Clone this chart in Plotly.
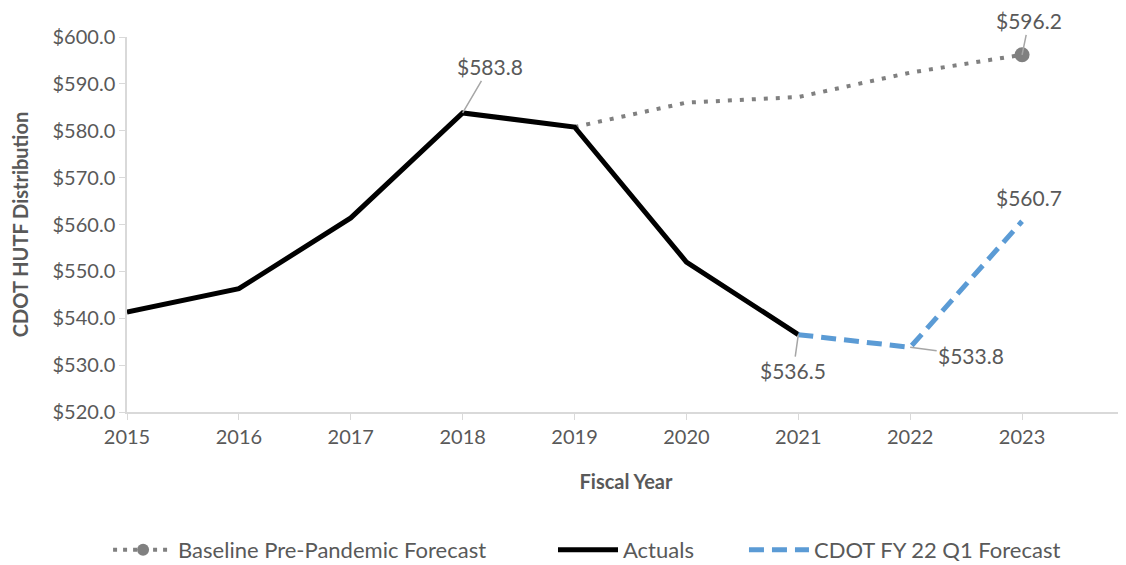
import plotly.graph_objects as go

years = [2015, 2016, 2017, 2018, 2019, 2020, 2021, 2022, 2023]
actual_years = [2015, 2016, 2017, 2018, 2019, 2020, 2021]
actual_vals = [541.3, 546.3, 561.4, 583.8, 580.8, 552.0, 536.5]
baseline_years = [2019, 2020, 2021, 2022, 2023]
baseline_vals = [580.8, 586.0, 587.2, 592.4, 596.2]
forecast_years = [2021, 2022, 2023]
forecast_vals = [536.5, 533.8, 560.7]
ytick_vals = [520, 530, 540, 550, 560, 570, 580, 590, 600]

GRAY = "#808080"
BLUE = "#5b9bd5"
TXT = "#595959"
FONT = "Lato, 'Open Sans', sans-serif"
FS = 20

fig = go.Figure()
fig.add_trace(go.Scatter(x=baseline_years, y=baseline_vals, mode="lines",
                         line=dict(color=GRAY, width=4, dash="4px,8px"),
                         showlegend=False, hoverinfo="skip"))
fig.add_trace(go.Scatter(x=[baseline_years[-1]], y=[baseline_vals[-1]], mode="markers",
                         marker=dict(color=GRAY, size=15), showlegend=False))
fig.add_trace(go.Scatter(x=[None], y=[None], mode="lines+markers",
                         name="Baseline Pre-Pandemic Forecast" + "&nbsp;" * 11,
                         line=dict(color=GRAY, width=4, dash="4px,6px"),
                         marker=dict(color=GRAY, size=12)))
fig.add_trace(go.Scatter(x=actual_years, y=actual_vals, mode="lines",
                         name="Actuals" + "&nbsp;" * 8,
                         line=dict(color="black", width=5)))
fig.add_trace(go.Scatter(x=forecast_years, y=forecast_vals, mode="lines",
                         name="CDOT FY 22 Q1 Forecast",
                         line=dict(color=BLUE, width=5, dash="15px,8px")))

ann_font = dict(family=FONT, size=21, color=TXT)
def label(x, y, ax, ay, arrow=True):
    fig.add_annotation(x=x, y=y, text=f"${y:.1f}", showarrow=arrow, ax=ax, ay=ay,
                       arrowhead=0, arrowwidth=1.5, arrowcolor="#a6a6a6", standoff=0,
                       font=ann_font)

label(2018, actual_vals[3], 27, -46)
label(2023, baseline_vals[-1], 7, -34)
label(2021, forecast_vals[0], -5, 36)
label(2022, forecast_vals[1], 61, 8)
fig.add_annotation(x=2023, y=forecast_vals[2], text=f"${forecast_vals[2]:.1f}",
                   showarrow=False, xshift=7, yshift=24, font=ann_font)

fig.update_layout(
    width=1118, height=557,
    margin=dict(l=119, r=1, t=29, b=153, autoexpand=False),
    paper_bgcolor="white", plot_bgcolor="white",
    font=dict(family=FONT, color=TXT),
    legend=dict(orientation="h", x=0.461, xanchor="center", y=-0.368, yanchor="middle",
                font=dict(family=FONT, size=22, color=TXT), itemwidth=60,
                traceorder="normal"),
    xaxis=dict(range=[2015, 2023.92], tickmode="array", tickvals=years,
               ticktext=[str(y) for y in years], showgrid=False, zeroline=False,
               showline=True, linecolor="#d9d9d9", linewidth=1.5, automargin=False,
               ticks="outside", ticklen=6, tickcolor="#d9d9d9",
               tickfont=dict(family=FONT, size=FS, color=TXT),
               title=dict(text="<b>Fiscal Year</b>", standoff=28,
                          font=dict(family=FONT, size=FS, color=TXT))),
    yaxis=dict(range=[520, 600], tickmode="array", tickvals=ytick_vals,
               ticktext=[f"${v:.1f}" for v in ytick_vals], showgrid=False,
               zeroline=False, showline=True, linecolor="#d9d9d9", linewidth=1.5,
               automargin=False,
               ticks="outside", ticklen=6, tickcolor="#d9d9d9",
               tickfont=dict(family=FONT, size=FS, color=TXT),
               title=dict(text="<b>CDOT HUTF Distribution</b>", standoff=19,
                          font=dict(family=FONT, size=FS, color=TXT))),
)

fig.write_html("out.html")
